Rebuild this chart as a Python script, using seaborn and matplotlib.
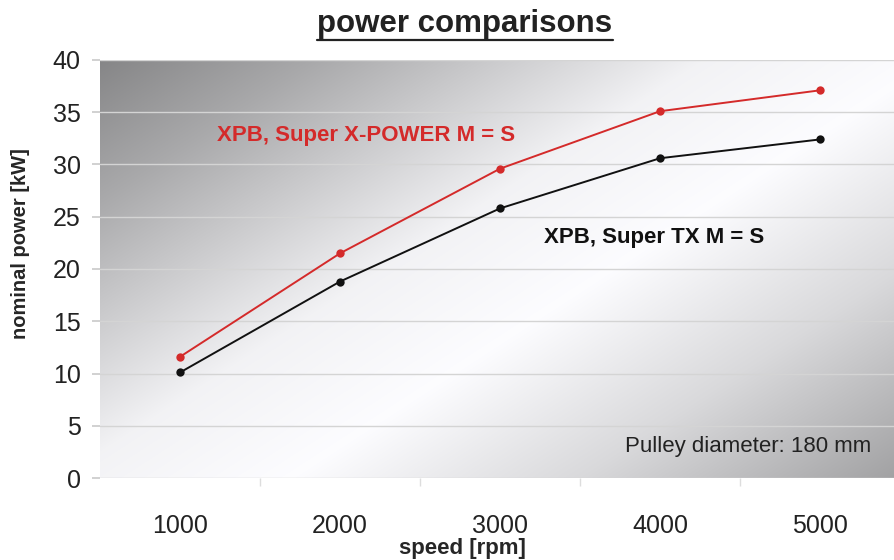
import numpy as np
import pandas as pd
import matplotlib
matplotlib.use("Agg")
import matplotlib.pyplot as plt
import seaborn as sns

speed = [1000, 2000, 3000, 4000, 5000]
xpower = [11.6, 21.5, 29.6, 35.1, 37.1]
supertx = [10.1, 18.8, 25.8, 30.6, 32.4]
series_names = ["XPB, Super X-POWER M = S", "XPB, Super TX M = S"]
y_ticks = [0, 5, 10, 15, 20, 25, 30, 35, 40]
title = "power comparisons"
x_label = "speed [rpm]"
y_label = "nominal power [kW]"
note = "Pulley diameter: 180 mm"

df = pd.DataFrame({
    "speed": speed * 2,
    "power": xpower + supertx,
    "series": [series_names[0]] * 5 + [series_names[1]] * 5,
})

sns.set_theme(style="white")
plt.rcParams["font.family"] = ["Liberation Sans", "DejaVu Sans"]

fig = plt.figure(figsize=(8.94, 5.6), dpi=100)
ax = fig.add_axes([100 / 894, 82 / 560, 794 / 894, 418 / 560])

# background gradient (diagonal: dark top-left, white band, grey bottom-right)
W, H = 794, 418
xx, yy = np.meshgrid(np.arange(W), np.arange(H))
t = (xx * 418 + yy * 644) / (794 * 418 + 418 * 644)
b = np.interp(t, [0, 0.15, 0.42, 0.58, 0.78, 1.0], [0.53, 0.67, 0.96, 1.0, 0.86, 0.64])
img = np.dstack([b * 0.99, b * 0.99, b * 1.0])
ax.imshow(img, extent=(0, 1, 0, 1), transform=ax.transAxes, aspect="auto", zorder=0, interpolation="bilinear")

sns.lineplot(data=df, x="speed", y="power", hue="series",
             palette={series_names[0]: "#d42a2a", series_names[1]: "#111111"},
             marker="o", markersize=6, markeredgewidth=0, linewidth=1.4,
             legend=False, ax=ax, zorder=3)

ax.set_xlim(500, 5462)
ax.set_ylim(0, 40)
ax.set_yticks(y_ticks)
ax.set_xticks(speed)
ax.set_xticks([1500, 2500, 3500, 4500], minor=True)
ax.grid(axis="y", color="#d4d4d4", linewidth=1.0, zorder=1)
ax.set_axisbelow(True)
for s in ax.spines.values():
    s.set_visible(False)
ax.tick_params(axis="y", which="major", left=True, length=6, color="#cccccc", labelsize=18, labelcolor="#222222", pad=8)
ax.tick_params(axis="x", which="major", bottom=False, length=0, labelsize=18, labelcolor="#222222", pad=26)
ax.tick_params(axis="x", which="minor", bottom=True, length=6, color="#dddddd", direction="out")

ax.set_xlabel(x_label, fontsize=16, fontweight="bold")
ax.xaxis.set_label_coords(0.456, -0.143)
ax.set_ylabel(y_label, fontsize=14.5, fontweight="bold")
ax.yaxis.set_label_coords(-0.088, 0.562)

ax.text(1231, 32.8, series_names[0], color="#d42a2a", fontsize=16, fontweight="bold", va="center", ha="left", zorder=4)
ax.text(3275, 23.0, series_names[1], color="#111111", fontsize=16, fontweight="bold", va="center", ha="left", zorder=4)
ax.text(5319, 3.0, note, color="#222222", fontsize=16, va="center", ha="right", zorder=4)

fig.text(465 / 894, 1 - 24 / 560, title, fontsize=22.5, fontweight="semibold", ha="center", va="center",
         color="#222222")
# underline
fig.add_artist(plt.Line2D([317 / 894, 613 / 894], [1 - 40 / 560, 1 - 40 / 560], color="#222222", linewidth=1.6))

fig.savefig("out.png", dpi=100)
